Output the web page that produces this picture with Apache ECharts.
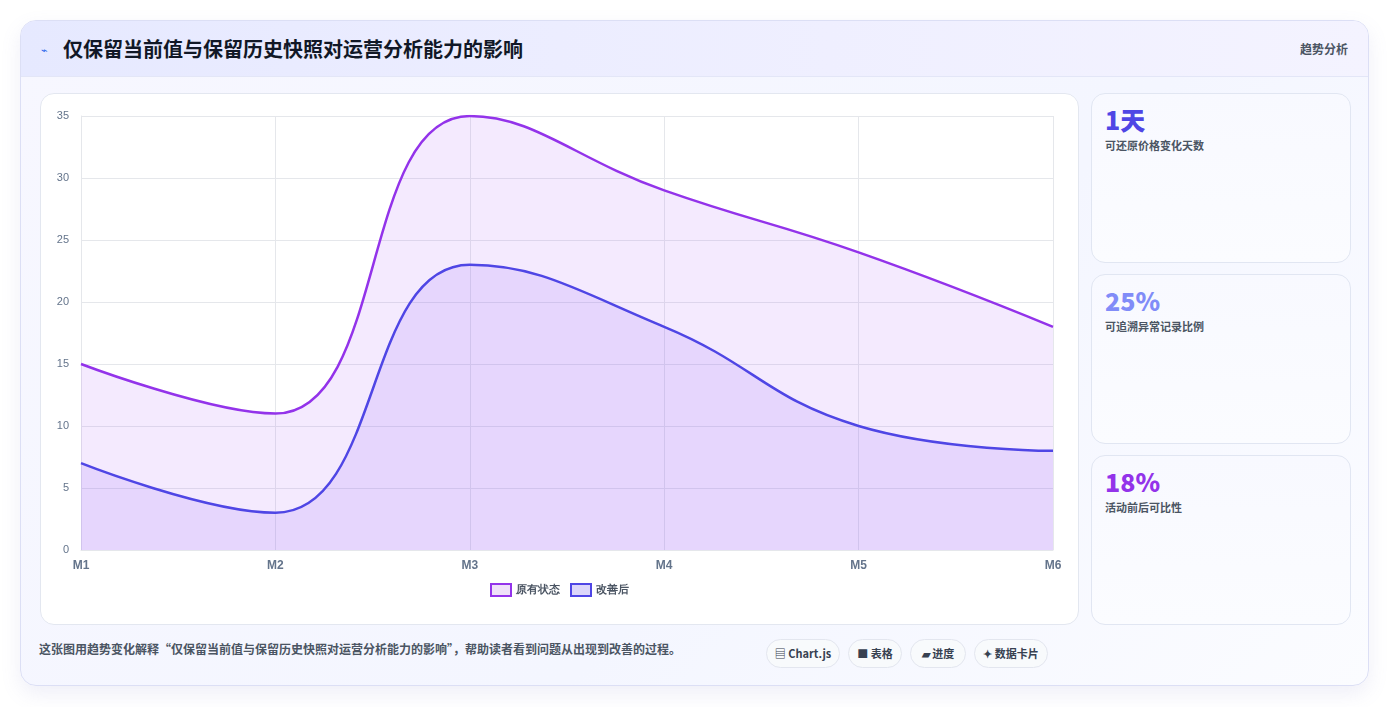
<!DOCTYPE html>
<html><head><meta charset="utf-8">
<script src="https://cdn.jsdelivr.net/npm/echarts@6/dist/echarts.min.js"></script>
<style>
*{box-sizing:border-box;margin:0;padding:0}
body{width:1390px;height:707px;background:#fff;font-family:"Noto Sans CJK SC","Noto Sans",sans-serif;position:relative;overflow:hidden}
.card{position:absolute;left:20px;top:20px;width:1349px;height:666px;border:1px solid #dcdff5;border-radius:16px;background:linear-gradient(135deg,#f7f7ff,#f4f6ff 60%,#fbfcff);box-shadow:0 8px 20px rgba(120,120,200,.12);overflow:hidden}
.head{position:absolute;left:0;top:0;width:100%;height:56px;background:linear-gradient(90deg,#e6e9ff,#efefff 60%,#f4f3ff);border-bottom:1px solid #e3e6f7}
.title{position:absolute;left:42px;top:13px;font-size:20px;font-weight:700;color:#111827}
.icon{position:absolute;left:20px;top:20px;font-size:11px;color:#2563eb}
.tag{position:absolute;right:20px;top:19px;font-size:12px;color:#4b5563;font-weight:600}
.panel{position:absolute;left:19px;top:72px;width:1039px;height:532px;background:#fff;border:1px solid #e3e7f0;border-radius:14px}
#chart{position:absolute;left:0;top:0;width:100%;height:100%}
.m{position:absolute;left:1070px;width:260px;height:170px;border:1px solid #e1e6f2;border-radius:14px;background:linear-gradient(180deg,#f8f9ff,#fbfcff)}
.m b{position:absolute;left:13px;top:7px;font-size:25px;font-weight:800;font-family:"Noto Sans CJK SC",sans-serif}
.m span{position:absolute;left:13px;top:43px;font-size:11px;color:#4b5563;font-weight:600}
.foot{position:absolute;left:18px;top:619px;font-size:12px;color:#4b5563;font-weight:600}
.pill{position:absolute;top:618px;height:29px;border:1px solid #e3e6ef;border-radius:15px;background:#f8fafc;font-size:11px;font-weight:700;color:#374151;line-height:27px;text-align:center}
</style></head><body>
<div class="card">
<div class="head"><span class="icon">⌁</span><div class="title">仅保留当前值与保留历史快照对运营分析能力的影响</div><div class="tag">趋势分析</div></div>
<div class="panel"><div id="chart"></div></div>
<div class="m" style="top:72px"><b style="color:#4f46e5">1天</b><span>可还原价格变化天数</span></div>
<div class="m" style="top:253px"><b style="color:#818cf8">25%</b><span>可追溯异常记录比例</span></div>
<div class="m" style="top:434px"><b style="color:#9333ea">18%</b><span>活动前后可比性</span></div>
<div class="foot">这张图用趋势变化解释“仅保留当前值与保留历史快照对运营分析能力的影响”，帮助读者看到问题从出现到改善的过程。</div>
<div class="pill" style="left:745px;width:74px">▤ Chart.js</div>
<div class="pill" style="left:827px;width:54px">■ 表格</div>
<div class="pill" style="left:889px;width:56px">▰ 进度</div>
<div class="pill" style="left:953px;width:74px">✦ 数据卡片</div>
</div>
<script>
const categories=['M1','M2','M3','M4','M5','M6'];
const before=[15,11,35,29,24,18];
const after=[7,3,23,18,10,8];
const yTicks={min:0,max:35,interval:5};
const c=echarts.init(document.getElementById('chart'));
c.setOption({
 animation:false,
 grid:{left:40,right:25,top:22,bottom:74},
 legend:{bottom:22,icon:'rect',itemWidth:20,itemHeight:12,itemGap:10,textStyle:{fontSize:11,color:'#4b5563',fontWeight:600},
  data:[{name:'原有状态',itemStyle:{color:'#efe0f9',borderColor:'#9333ea',borderWidth:2}},{name:'改善后',itemStyle:{color:'#dcd6fa',borderColor:'#4f46e5',borderWidth:2}}]},
 xAxis:{type:'category',data:categories,boundaryGap:false,axisLine:{lineStyle:{color:'#e5e7eb'}},axisTick:{show:false},
  axisLabel:{color:'#64748b',fontWeight:700,fontSize:12,margin:10},splitLine:{show:true,lineStyle:{color:'#e5e7eb'}}},
 yAxis:{type:'value',min:yTicks.min,max:yTicks.max,interval:yTicks.interval,axisLine:{show:true,lineStyle:{color:'#e5e7eb'}},
  axisLabel:{color:'#64748b',fontSize:11,margin:12},splitLine:{lineStyle:{color:'#e5e7eb'}}},
 series:[
  {name:'原有状态',type:'line',data:before,smooth:0.45,symbol:'none',lineStyle:{color:'#9333ea',width:2.5},itemStyle:{color:'#9333ea'},areaStyle:{color:'rgba(168,85,247,0.18)',origin:'start'}},
  {name:'改善后',type:'line',data:after,smooth:0.45,symbol:'none',lineStyle:{color:'#4f46e5',width:2.5},itemStyle:{color:'#4f46e5'},areaStyle:{color:'rgba(139,92,246,0.2)',origin:'start'}}
 ]
});
</script>
</body></html>
